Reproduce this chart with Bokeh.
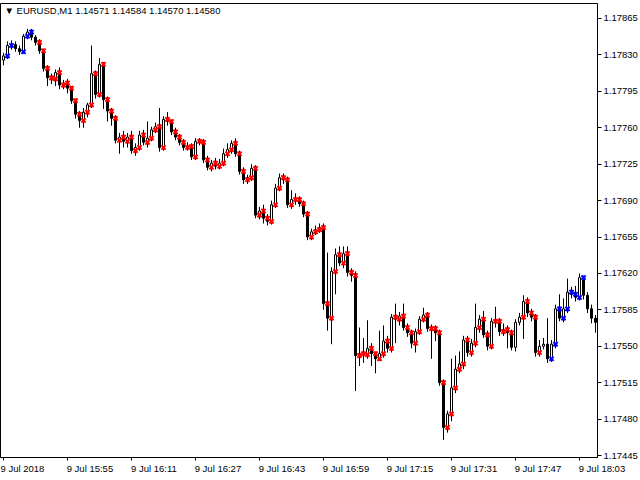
from bokeh.plotting import figure
from bokeh.models import Range1d, FixedTicker, PrintfTickFormatter, Label, ColumnDataSource, AllLabels
from bokeh.embed import file_html
from bokeh.resources import INLINE

# EURUSD M1 candles, prices in points (1 point = 0.00001)
open_pts = [
    117825, 117829, 117839, 117840, 117836, 117833, 117848, 117852, 117847, 117842,
    117834, 117817, 117808, 117807, 117813, 117801, 117803, 117798, 117786, 117773,
    117767, 117775, 117782, 117812, 117792, 117821, 117787, 117776, 117769, 117748,
    117751, 117747, 117751, 117738, 117741, 117753, 117746, 117750, 117758, 117761,
    117741, 117768, 117766, 117756, 117751, 117746, 117741, 117742, 117732, 117747,
    117746, 117729, 117722, 117726, 117723, 117726, 117735, 117739, 117745, 117735,
    117718, 117710, 117712, 117721, 117676, 117680, 117673, 117670, 117686, 117702,
    117712, 117710, 117686, 117691, 117691, 117687, 117677, 117655, 117660, 117662,
    117664, 117591, 117577, 117622, 117638, 117630, 117639, 117621, 117618, 117541,
    117543, 117542, 117548, 117543, 117538, 117543, 117555, 117548, 117578, 117576,
    117579, 117568, 117563, 117553, 117564, 117576, 117580, 117567, 117567, 117563,
    117515, 117472, 117485, 117510, 117528, 117533, 117556, 117544, 117553, 117568,
    117576, 117561, 117550, 117574, 117574, 117564, 117566, 117563, 117549, 117573,
    117578, 117593, 117582, 117578, 117544, 117550, 117552, 117538, 117552, 117586,
    117577, 117586, 117602, 117600, 117597, 117616, 117599, 117586, 117577,
]
close_pts = [
    117829, 117839, 117840, 117836, 117833, 117848, 117852, 117847, 117842, 117834,
    117817, 117808, 117807, 117813, 117801, 117803, 117798, 117786, 117773, 117767,
    117775, 117782, 117812, 117792, 117821, 117787, 117776, 117769, 117748, 117751,
    117747, 117751, 117738, 117741, 117753, 117746, 117750, 117758, 117761, 117741,
    117768, 117766, 117756, 117751, 117746, 117741, 117742, 117732, 117747, 117746,
    117729, 117722, 117726, 117723, 117726, 117735, 117739, 117745, 117735, 117718,
    117710, 117712, 117721, 117676, 117680, 117673, 117670, 117686, 117702, 117712,
    117710, 117686, 117691, 117691, 117687, 117677, 117655, 117660, 117662, 117664,
    117591, 117577, 117622, 117638, 117630, 117639, 117621, 117618, 117541, 117543,
    117542, 117548, 117543, 117538, 117543, 117555, 117548, 117578, 117576, 117579,
    117568, 117563, 117553, 117564, 117576, 117580, 117567, 117567, 117563, 117515,
    117472, 117485, 117510, 117528, 117533, 117556, 117544, 117553, 117568, 117576,
    117561, 117550, 117574, 117574, 117564, 117566, 117563, 117549, 117573, 117578,
    117593, 117582, 117578, 117544, 117550, 117552, 117538, 117552, 117586, 117577,
    117586, 117602, 117600, 117597, 117616, 117599, 117586, 117577, 117573,
]
high_pts = [
    117832, 117843, 117844, 117843, 117839, 117850, 117855, 117855, 117849, 117845,
    117836, 117820, 117812, 117816, 117818, 117806, 117807, 117800, 117788, 117776,
    117779, 117784, 117839, 117815, 117827, 117823, 117790, 117779, 117772, 117755,
    117757, 117755, 117757, 117745, 117757, 117758, 117766, 117761, 117765, 117779,
    117771, 117775, 117768, 117760, 117754, 117749, 117746, 117745, 117750, 117750,
    117749, 117733, 117729, 117731, 117730, 117740, 117745, 117748, 117750, 117738,
    117722, 117715, 117725, 117724, 117684, 117686, 117677, 117690, 117706, 117716,
    117716, 117713, 117700, 117697, 117694, 117690, 117680, 117663, 117666, 117668,
    117668, 117640, 117626, 117644, 117646, 117646, 117646, 117625, 117622, 117568,
    117558, 117575, 117553, 117545, 117565, 117570, 117560, 117581, 117591, 117583,
    117591, 117572, 117566, 117567, 117579, 117587, 117583, 117571, 117570, 117566,
    117518, 117488, 117538, 117541, 117545, 117560, 117560, 117557, 117591, 117580,
    117584, 117565, 117577, 117588, 117577, 117572, 117570, 117566, 117576, 117582,
    117599, 117597, 117586, 117581, 117556, 117558, 117577, 117556, 117590, 117600,
    117596, 117615, 117607, 117608, 117620, 117618, 117602, 117590, 117580,
]
low_pts = [
    117820, 117826, 117835, 117833, 117830, 117831, 117845, 117844, 117839, 117831,
    117814, 117800, 117802, 117800, 117797, 117797, 117793, 117783, 117769, 117760,
    117760, 117770, 117779, 117788, 117789, 117778, 117766, 117762, 117745, 117735,
    117741, 117741, 117735, 117733, 117738, 117743, 117741, 117747, 117755, 117737,
    117738, 117762, 117753, 117748, 117743, 117738, 117738, 117729, 117729, 117743,
    117726, 117719, 117718, 117720, 117720, 117723, 117731, 117735, 117732, 117715,
    117706, 117706, 117709, 117673, 117672, 117668, 117666, 117667, 117683, 117699,
    117706, 117683, 117682, 117686, 117684, 117674, 117652, 117652, 117657, 117659,
    117585, 117565, 117552, 117600, 117627, 117625, 117617, 117612, 117507, 117531,
    117534, 117538, 117531, 117524, 117536, 117539, 117544, 117544, 117553, 117570,
    117565, 117559, 117548, 117544, 117561, 117573, 117564, 117538, 117555, 117512,
    117460, 117467, 117478, 117505, 117524, 117528, 117540, 117540, 117549, 117563,
    117558, 117546, 117547, 117568, 117560, 117560, 117548, 117546, 117545, 117570,
    117557, 117578, 117574, 117540, 117540, 117547, 117534, 117535, 117548, 117574,
    117573, 117582, 117596, 117593, 117594, 117595, 117582, 117572, 117563,
]
# arrow signal per bar: b = blue, r = red, - = none
signals = "-bb--bbb-" + "r" * 119 + "--" + "rrrrr" + "--" + "bbbbbbbbb" + "---"

price_ticks = [1.17445, 1.17480, 1.17515, 1.17550, 1.17585, 1.17620, 1.17655,
               1.17690, 1.17725, 1.17760, 1.17795, 1.17830, 1.17865]
time_tick_bars = [0, 16, 32, 48, 64, 80, 96, 112, 128, 144]
time_tick_labels = ["9 Jul 2018", "9 Jul 15:55", "9 Jul 16:11", "9 Jul 16:27",
                    "9 Jul 16:43", "9 Jul 16:59", "9 Jul 17:15", "9 Jul 17:31",
                    "9 Jul 17:47", "9 Jul 18:03"]
header = "\u25bc EURUSD,M1  1.14571 1.14584 1.14570 1.14580"

n = len(open_pts)
idx = list(range(n))
o = [v * 1e-5 for v in open_pts]
c = [v * 1e-5 for v in close_pts]
h = [v * 1e-5 for v in high_pts]
l = [v * 1e-5 for v in low_pts]
top = [max(a, b) for a, b in zip(o, c)]
bot = [min(a, b) for a, b in zip(o, c)]
fill = ["white" if cc > oo else "black" for oo, cc in zip(o, c)]

src = ColumnDataSource(dict(x=idx, o=o, c=c, h=h, l=l, top=top, bot=bot, fill=fill))

FONT = "Liberation Sans"
X0, X1 = -0.75, n - 0.5
p = figure(width=640, height=480, output_backend="svg", toolbar_location=None,
           x_range=Range1d(X0, X1), y_range=Range1d(1.174431, 1.178794),
           y_axis_location="right", min_border_left=0, min_border_top=3,
           min_border_right=43, min_border_bottom=23)
p.background_fill_color = "white"
p.border_fill_color = "white"
p.outline_line_color = "black"
p.outline_line_width = 1
p.xgrid.visible = False
p.ygrid.visible = False

p.segment(x0="x", y0="l", x1="x", y1="h", source=src, line_color="black", line_width=1)
p.vbar(x="x", width=0.5, top="top", bottom="bot", source=src,
       fill_color="fill", line_color="black", line_width=1)

for code, col in (("r", "#ff0000"), ("b", "#0000ff")):
    xs = [i for i in idx if signals[i] == code]
    ys = [o[i] for i in xs]
    p.scatter(xs, ys, marker="x", size=6, line_width=2, color=col)

ya = p.yaxis[0]
ya.ticker = FixedTicker(ticks=price_ticks)
ya.formatter = PrintfTickFormatter(format="%.5f")
ya.major_tick_out = 4
ya.major_tick_in = 0
ya.minor_tick_out = 0
ya.minor_tick_in = 0
ya.major_label_standoff = 2
ya.major_label_text_font = FONT
ya.major_label_text_font_size = "9.5px"
ya.major_label_text_color = "black"
ya.axis_line_color = "black"

# time axis: labels start at their tick (terminal style) -> pad on the left
PAD = "\u00a0" * 17
overrides = {b: PAD + t for b, t in zip(time_tick_bars, time_tick_labels)}
overrides[time_tick_bars[0]] = time_tick_labels[0]   # first one sits at the left edge
xa = p.xaxis[0]
xa.ticker = FixedTicker(ticks=time_tick_bars)
xa.major_label_overrides = overrides
xa.major_label_policy = AllLabels()
xa.major_tick_out = 3
xa.major_tick_in = 0
xa.minor_tick_out = 0
xa.minor_tick_in = 0
xa.major_label_standoff = 2
xa.major_label_text_font = FONT
xa.major_label_text_font_size = "9.5px"
xa.major_label_text_color = "black"
xa.axis_line_color = "black"

p.add_layout(Label(x=4, y=453, x_units="screen", y_units="screen", text=header,
                   text_font=FONT, text_font_size="9.5px", text_color="black",
                   text_baseline="top", text_align="left"))

open("out.html", "w").write(file_html(p, INLINE))
